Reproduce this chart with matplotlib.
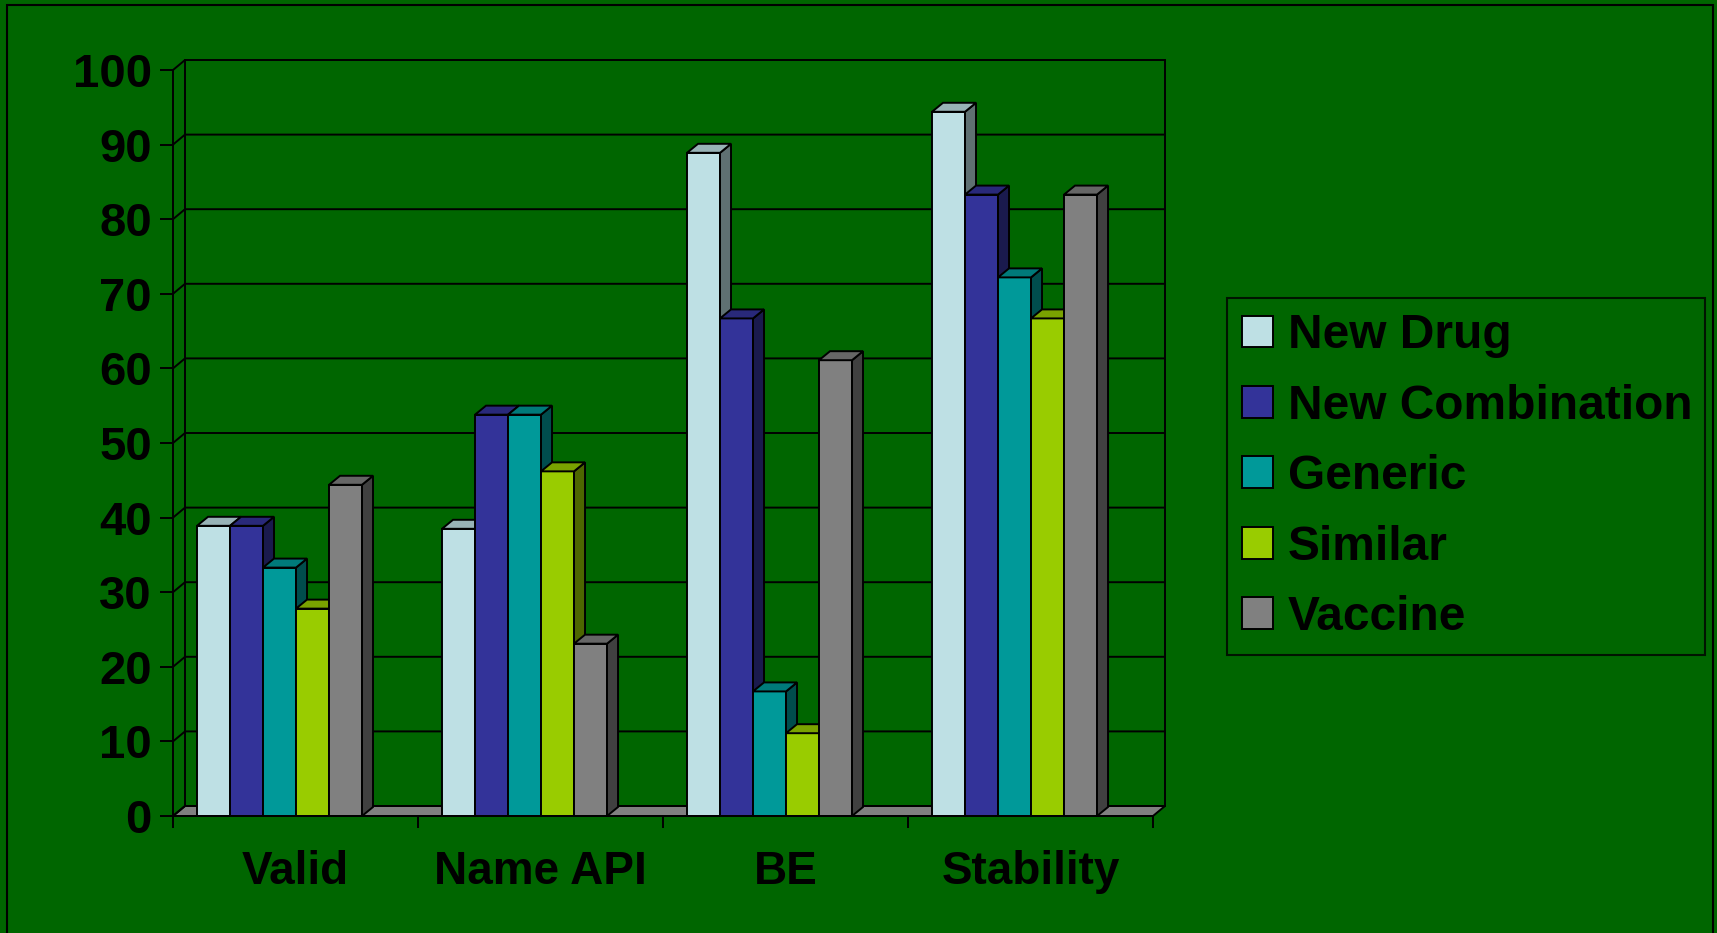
import matplotlib
matplotlib.use("Agg")
import matplotlib.pyplot as plt
from matplotlib.patches import Polygon, Rectangle
from matplotlib.lines import Line2D
import matplotlib.colors as mcolors

# ---- data -------------------------------------------------------------
categories = ["Valid", "Name API", "BE", "Stability"]
series_names = ["New Drug", "New Combination", "Generic", "Similar", "Vaccine"]
new_drug = [38.9, 38.5, 88.9, 94.4]
new_combination = [38.9, 53.8, 66.7, 83.3]
generic = [33.3, 53.8, 16.7, 72.2]
similar = [27.8, 46.2, 11.1, 66.7]
vaccine = [44.4, 23.1, 61.1, 83.3]
y_ticks = [0, 10, 20, 30, 40, 50, 60, 70, 80, 90, 100]

series_values = [new_drug, new_combination, generic, similar, vaccine]
series_colors = ["#BEE0E4", "#333399", "#009999", "#99CC00", "#808080"]
BG = "#006600"
LW = 1.4

plt.rcParams["font.family"] = ["Liberation Sans", "DejaVu Sans"]
plt.rcParams["font.weight"] = "bold"

W, H, DPI = 1717, 933, 100
fig = plt.figure(figsize=(W / DPI, H / DPI), dpi=DPI, facecolor=BG)

# plot area (front plane) in pixels
x_left, x_right, y_zero, y_top = 173, 1153, 816, 70
ax = fig.add_axes([x_left / W, (H - y_zero) / H,
                   (x_right - x_left) / W, (y_zero - y_top) / H])
ax.set_facecolor("none")
n_cat = len(categories)
ax.set_xlim(0, n_cat)
ax.set_ylim(0, 100)

# pixel -> data unit factors, used for the oblique depth of the 3-D look
ux = n_cat / (x_right - x_left)
uy = 100 / (y_zero - y_top)
DX, DY = 12 * ux, 10 * uy        # wall / floor depth
BDX, BDY = 11 * ux, 9 * uy       # bar depth


def shade(c, f):
    r, g, b = mcolors.to_rgb(c)
    return (r * f, g * f, b * f)


# floor
ax.add_patch(Polygon([(0, 0), (n_cat, 0), (n_cat + DX, DY), (DX, DY)],
                     closed=True, fc="#808080", ec="black", lw=LW,
                     clip_on=False, zorder=1))

# back wall gridlines and left wall diagonals
for v in y_ticks:
    ax.add_line(Line2D([0, DX, n_cat + DX], [v, v + DY, v + DY],
                       color="black", lw=LW, clip_on=False, zorder=1.5))
ax.add_line(Line2D([DX, DX], [DY, 100 + DY], color="black", lw=LW,
                   clip_on=False, zorder=1.5))
ax.add_line(Line2D([n_cat + DX, n_cat + DX], [DY, 100 + DY], color="black",
                   lw=LW, clip_on=False, zorder=1.5))

# bars
bar_w = 0.1347
group_off = 0.098
handles = []
for i in range(n_cat):
    for j, (vals, col) in enumerate(zip(series_values, series_colors)):
        x0 = i + group_off + j * bar_w
        h = vals[i]
        cont = ax.bar(x0, h, width=bar_w, align="edge", color=col,
                      edgecolor="black", lw=LW, zorder=3, clip_on=False)
        if i == 0:
            handles.append(cont[0])
        # right side face
        ax.add_patch(Polygon([(x0 + bar_w, 0), (x0 + bar_w + BDX, BDY),
                              (x0 + bar_w + BDX, h + BDY), (x0 + bar_w, h)],
                             closed=True, fc=shade(col, 0.5), ec="black",
                             lw=LW, zorder=3, clip_on=False))
        # top face
        ax.add_patch(Polygon([(x0, h), (x0 + bar_w, h),
                              (x0 + bar_w + BDX, h + BDY), (x0 + BDX, h + BDY)],
                             closed=True, fc=shade(col, 0.8), ec="black",
                             lw=LW, zorder=3, clip_on=False))

# axes styling
for s in ("top", "right"):
    ax.spines[s].set_visible(False)
for s in ("left", "bottom"):
    ax.spines[s].set_color("black")
    ax.spines[s].set_linewidth(LW)
    ax.spines[s].set_zorder(4)

ax.set_yticks(y_ticks)
ax.set_yticklabels([str(v) for v in y_ticks], fontsize=34, fontweight="bold")
ax.tick_params(axis="y", length=9.4, width=LW, pad=5.8, direction="out",
               colors="black")

ax.set_xticks(range(n_cat + 1))
ax.set_xticklabels([])
ax.tick_params(axis="x", which="major", length=8.6, width=LW,
               direction="out", colors="black")
ax.set_xticks([i + 0.5 for i in range(n_cat)], minor=True)
ax.set_xticklabels(categories, minor=True, fontsize=33, fontweight="bold")
ax.tick_params(axis="x", which="minor", length=0, pad=24.5, colors="black")

# legend
leg = fig.legend(handles, series_names, loc="upper left",
                 bbox_to_anchor=(1227 / W, 1 - 298 / H, (1705 - 1227) / W, 0),
                 mode="expand", borderaxespad=0, frameon=True, fancybox=False,
                 prop={"family": ["Liberation Sans", "DejaVu Sans"],
                       "weight": "bold", "size": 34.5},
                 handlelength=0.65, handleheight=0.65, handletextpad=0.3,
                 labelspacing=0.53, borderpad=0.32)
leg.get_frame().set_edgecolor("black")
leg.get_frame().set_facecolor("none")
leg.get_frame().set_linewidth(1.5)

# outer chart border
fig.add_artist(Rectangle((7 / W, -0.1), (1713 - 7) / W, 1.1 - 5 / H,
                         transform=fig.transFigure, fill=False,
                         ec="black", lw=1.5))

fig.savefig("out.png", dpi=DPI, facecolor=BG)
